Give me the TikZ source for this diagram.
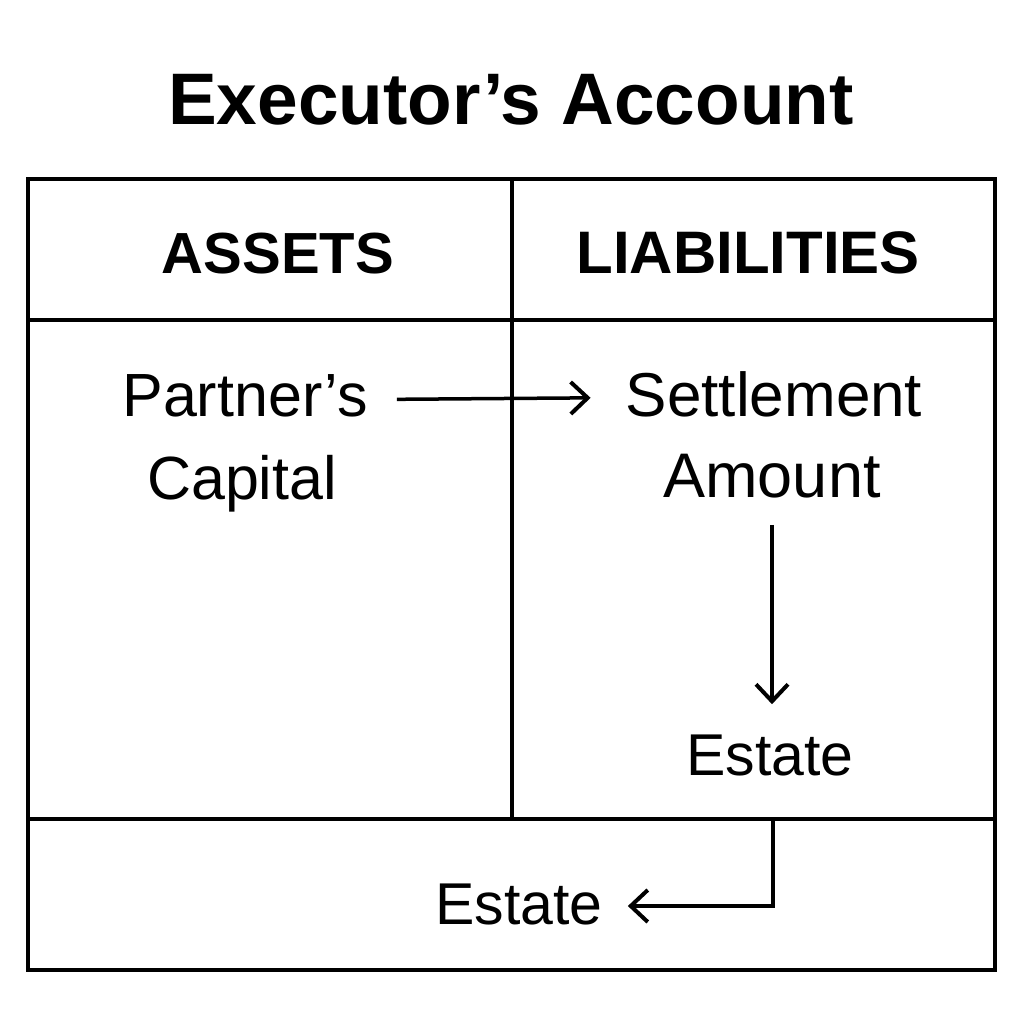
\documentclass[tikz,border=0pt]{standalone}
\usepackage{fontspec}
\setmainfont{Liberation Sans}
\usetikzlibrary{arrows.meta}
\tikzset{
  txt/.style={inner sep=0pt, anchor=base, font=\fontsize{#1}{#1}\selectfont},
  head/.style={inner sep=0pt, anchor=base, font=\bfseries\fontsize{#1}{#1}\selectfont},
  frame/.style={line width=4pt},
  rule/.style={line width=3.5pt},
  arr/.style={line width=3.5pt, -{Straight Barb[length=17pt,width=32pt,line width=4pt]}}
}
\begin{document}
\begin{tikzpicture}[x=1pt,y=-1pt]
\useasboundingbox (0,0) rectangle (1024,1024);
% table
\draw[frame] (28,179) rectangle (995,970);
\draw[rule] (28,320) -- (995,320);
\draw[rule] (512,179) -- (512,819);
\draw[rule] (28,819) -- (995,819);
% texts
\node[head=73] (title) at (511,125) {Executor’s Account};
\node[head=58] (assets) at (278,273) {ASSETS};
\node[head=60] (liab) at (748,273) {LIABILITIES};
\node[txt=61] (partner) at (245,416) {Partner’s};
\node[txt=61] (capital) at (242,499) {Capital};
\node[txt=62] (settle) at (774,416) {Settlement};
\node[txt=63] (amount) at (772,497) {Amount};
\node[txt=59] (estate1) at (770,775) {Estate};
\node[txt=59] (estate2) at (519,924) {Estate};
\coordinate (c3) at (773,819);
% arrows
\draw[arr] ([xshift=29pt,yshift=-4pt]partner.east) -- ([xshift=-35pt,yshift=-4pt]settle.west);
\draw[arr, shorten <=27pt, shorten >=30pt] (amount.south) -- (amount.south |- estate1.north);
\draw[arr] (c3) |- ([xshift=25pt,yshift=-2pt]estate2.east);
\end{tikzpicture}
\end{document}
